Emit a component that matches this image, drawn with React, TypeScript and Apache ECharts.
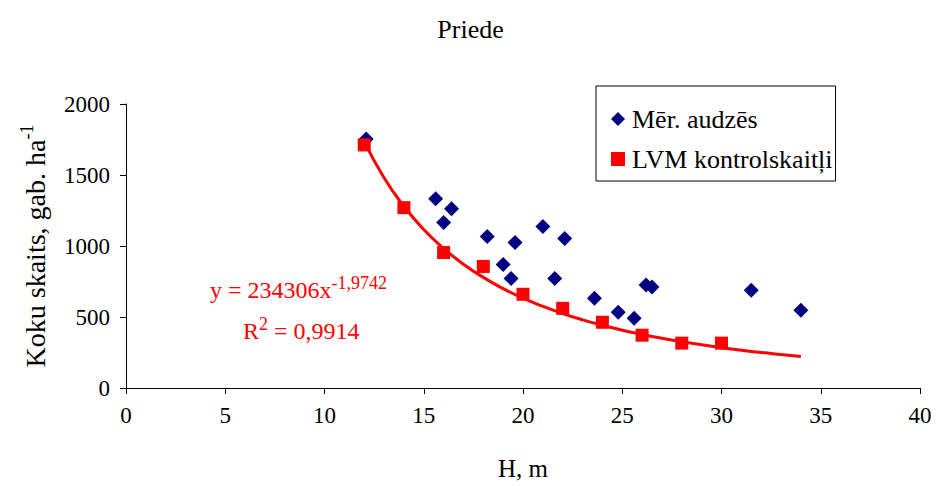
import React, { useEffect, useRef } from "react";
import * as echarts from "echarts";

const merX = [12.1, 15.6, 16.4, 16.0, 18.2, 19.6, 19.0, 19.4, 21.0, 22.1, 21.6, 23.6, 24.8, 25.6, 26.2, 26.5, 31.5, 34.0];
const merY = [1754, 1333, 1263, 1165, 1067, 1025, 870, 772, 1137, 1053, 772, 632, 533, 491, 725, 712, 688, 547];

const lvmX = [12, 14, 16, 18, 20, 22, 24, 26, 28, 30];
const lvmY = [1712, 1270, 954, 856, 660, 561, 463, 372, 316, 316];

const trendX = [12, 13, 14, 15, 16, 17, 18, 19, 20, 21, 22, 23, 24, 25, 26, 27, 28, 29, 30, 31, 32, 33, 34];
const trendY = [1735, 1481, 1280, 1116, 983, 872, 779, 700, 633, 575, 524, 480, 442, 407, 377, 350, 326, 304, 284, 266, 250, 236, 222];

const xTicks = [0, 40, 5];
const yTicks = [0, 2000, 500];

const FONT = "'Liberation Serif', 'Times New Roman', serif";

export default function App() {
  const ref = useRef<HTMLDivElement>(null);
  useEffect(() => {
    const chart = echarts.init(ref.current!, null, { renderer: "svg" });
    chart.setOption({
      animation: false,
      backgroundColor: "#ffffff",
      textStyle: { fontFamily: FONT },
      title: {
        text: "Priede",
        left: "center",
        top: 11,
        textStyle: { fontFamily: FONT, fontSize: 26, fontWeight: "normal", color: "#000" },
      },
      legend: {
        orient: "vertical",
        left: 596,
        top: 86,
        padding: [20, 3, 9, 15],
        itemGap: 14,
        itemWidth: 14,
        itemHeight: 14,
        borderColor: "#000",
        borderWidth: 1,
        data: [
          { name: "Mēr. audzēs", icon: "diamond" },
          { name: "LVM kontrolskaitļi", icon: "rect" },
        ],
        textStyle: { fontFamily: FONT, fontSize: 26, color: "#000", padding: [0, 0, 0, 2] },
      },
      grid: { left: 126, top: 104, width: 794, height: 285 },
      xAxis: {
        type: "value",
        min: xTicks[0],
        max: xTicks[1],
        interval: xTicks[2],
        name: "H, m",
        nameLocation: "middle",
        nameGap: 68,
        nameTextStyle: { fontFamily: FONT, fontSize: 25, color: "#000" },
        axisLine: { lineStyle: { color: "#000", width: 1 } },
        axisTick: { show: true, length: 6, lineStyle: { color: "#000" } },
        splitLine: { show: false },
        axisLabel: { fontFamily: FONT, fontSize: 23, color: "#000", margin: 16, formatter: (v: number) => String(v) },
      },
      yAxis: {
        type: "value",
        min: yTicks[0],
        max: yTicks[1],
        interval: yTicks[2],
        name: "{a|Koku skaits, gab. ha}{s|-1}",
        nameLocation: "middle",
        nameGap: 74,
        nameTextStyle: {
          rich: {
            a: { fontFamily: FONT, fontSize: 28, color: "#000" },
            s: { fontFamily: FONT, fontSize: 18, color: "#000", verticalAlign: "top", padding: [0, 0, 16, 0] },
          },
        },
        axisLine: { show: true, lineStyle: { color: "#000", width: 1 } },
        axisTick: { show: true, length: 6, lineStyle: { color: "#000" } },
        splitLine: { show: false },
        axisLabel: { fontFamily: FONT, fontSize: 23, color: "#000", margin: 16, formatter: (v: number) => String(v) },
      },
      graphic: [
        {
          type: "text",
          left: 210,
          top: 274,
          style: {
            text: "{a|y = 234306x}{s|-1,9742}",
            rich: {
              a: { fontFamily: FONT, fontSize: 24, fill: "#ff0000" },
              s: { fontFamily: FONT, fontSize: 18, fill: "#ff0000", verticalAlign: "top", padding: [0, 0, 14, 0] },
            },
          },
        },
        {
          type: "text",
          left: 243,
          top: 315,
          style: {
            text: "{a|R}{s|2}{a| = 0,9914}",
            rich: {
              a: { fontFamily: FONT, fontSize: 24, fill: "#ff0000" },
              s: { fontFamily: FONT, fontSize: 18, fill: "#ff0000", verticalAlign: "top", padding: [0, 0, 14, 0] },
            },
          },
        },
      ],
      series: [
        {
          name: "trend",
          type: "line",
          data: trendX.map((x, i) => [x, trendY[i]]),
          showSymbol: false,
          smooth: true,
          lineStyle: { color: "#ff0000", width: 3 },
          z: 1,
          silent: true,
        },
        {
          name: "Mēr. audzēs",
          type: "scatter",
          symbol: "diamond",
          symbolSize: 15,
          itemStyle: { color: "#000080", opacity: 1 },
          data: merX.map((x, i) => [x, merY[i]]),
          z: 3,
        },
        {
          name: "LVM kontrolskaitļi",
          type: "scatter",
          symbol: "rect",
          symbolSize: 13,
          itemStyle: { color: "#ff0000", opacity: 1 },
          data: lvmX.map((x, i) => [x, lvmY[i]]),
          z: 4,
        },
      ],
    });
    return () => chart.dispose();
  }, []);
  return <div ref={ref} style={{ position: "fixed", left: 0, top: 0, width: 941, height: 486 }} />;
}
